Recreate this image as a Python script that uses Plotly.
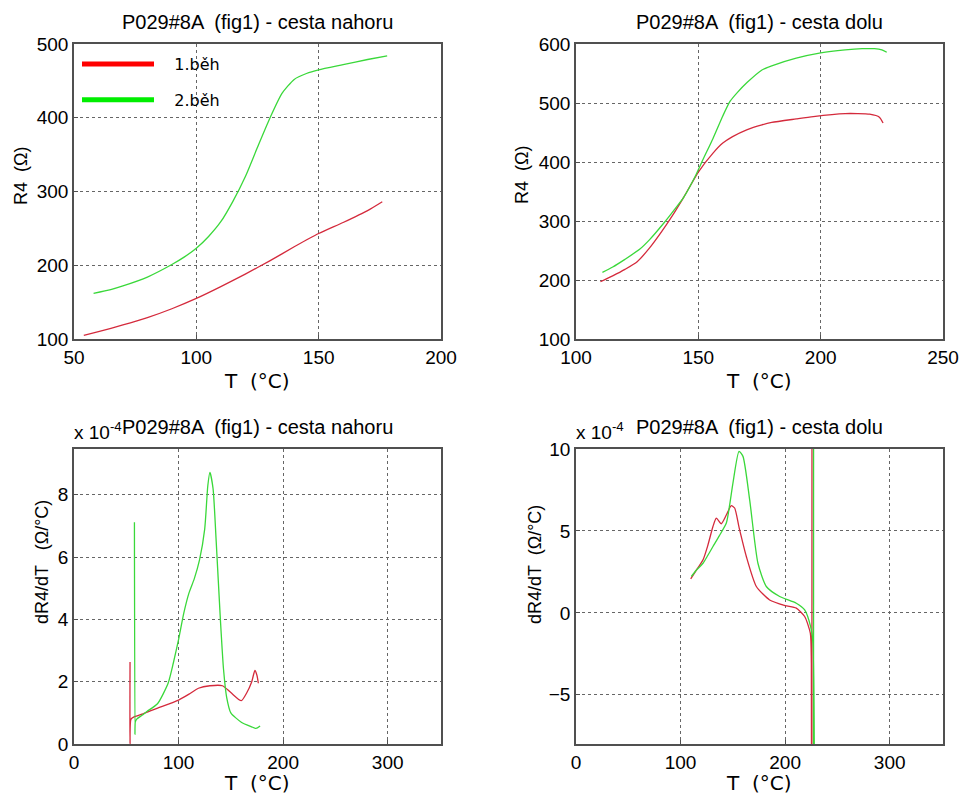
import plotly.graph_objects as go

# --- data ---
# cesta nahoru, R4 (Ohm)
up_t_run1 = [54, 60, 70, 80, 90, 100, 110, 120, 130, 140, 150, 160, 170, 176]
up_r_run1 = [105, 110, 119, 129, 141, 155, 171, 188, 206, 225, 243, 258, 274, 286]
up_t_run2 = [58, 65, 70, 80, 90, 95, 100, 105, 110, 115, 120, 125, 130, 135, 140, 145, 150, 160, 170, 178]
up_r_run2 = [162, 167, 172, 184, 201, 211, 223, 239, 259, 287, 320, 360, 399, 433, 452, 460, 465, 472, 479, 484]

# cesta dolu, R4 (Ohm)
down_t_run1 = [110, 115, 120, 125, 130, 135, 140, 144, 150, 156, 160, 164, 170, 176, 180, 190, 197, 210, 215, 220, 224, 225.5]
down_r_run1 = [197, 207, 218, 231, 254, 282, 313, 340, 383, 415, 432, 443, 455, 463, 467, 473, 477, 482, 482, 481, 476, 466]
down_t_run2 = [110.8, 115, 120, 126, 130, 136, 140, 144, 149, 152, 156, 160, 163, 166, 170, 176, 180, 190, 200, 210, 217, 222, 225, 227]
down_r_run2 = [213, 222, 235, 252, 268, 297, 318, 340, 378, 405, 440, 478, 503, 518, 535, 556, 563, 576, 585, 590, 592, 592, 590, 586]

# cesta nahoru, dR4/dT (x 1e-4 Ohm/degC)
up_dt_run1 = [53.6, 53.6, 54.5, 58, 66, 80, 100, 110, 119, 130, 142, 150, 160, 165, 170, 173, 175, 176.3]
up_dr_run1 = [2.63, 0.0, 0.8, 0.88, 0.97, 1.15, 1.41, 1.6, 1.79, 1.87, 1.87, 1.65, 1.39, 1.63, 2.0, 2.36, 2.2, 1.95]
up_dt_run2 = [57.8, 58.3, 58.6, 60, 65, 70, 80, 90, 95, 100, 105, 110, 115, 120, 125, 128, 130, 133, 136, 140, 143, 146, 150, 160, 170, 174, 178]
up_dr_run2 = [7.12, 0.3, 0.7, 0.8, 0.92, 1.05, 1.3, 1.95, 2.6, 3.35, 4.2, 4.85, 5.3, 5.9, 6.9, 8.3, 8.72, 8.2, 6.5, 4.0, 2.4, 1.5, 1.0, 0.7, 0.55, 0.5, 0.58]

# cesta dolu, dR4/dT (x 1e-4 Ohm/degC)
down_dt_run1 = [109.7, 115, 121.5, 126, 131, 134.2, 139, 144, 148.5, 151.7, 156, 162.9, 172.5, 185.2, 200, 210.7, 218.7, 224.1, 225.1, 225.5, 225.8]
down_dr_run1 = [2.08, 2.6, 3.24, 4.1, 5.27, 5.78, 5.44, 6.0, 6.54, 6.4, 5.2, 3.44, 1.61, 0.79, 0.45, 0.29, -0.22, -1.24, -3.08, -60, 60]
down_dt_run2 = [110.3, 115, 121.5, 126, 131, 137, 143.8, 147, 150.1, 155.9, 159.7, 166.1, 174, 182, 194.8, 210.7, 218.7, 224.4, 226.7, 227.1, 227.3]
down_dr_run2 = [2.22, 2.6, 3.03, 3.5, 4.05, 4.7, 5.48, 6.6, 7.92, 9.86, 9.55, 6.9, 3.03, 1.61, 1.0, 0.59, 0.18, -0.84, -1.85, -60, 60]

run_names = ["\u00a0\u00a0\u00a01.běh", "\u00a0\u00a0\u00a02.běh"]
run_colors = ["#d42a3c", "#3ad83a"]
legend_colors = ["#ff0000", "#00ee00"]

TICK_FONT = dict(family="Liberation Sans, Arial", size=19, color="black")
LABEL_FONT = dict(family="DejaVu Sans", size=20, color="black")
YLAB_FONT = dict(family="Liberation Sans, Arial", size=18, color="black")
TITLE_FONT = dict(family="Liberation Sans, Arial", size=20, color="black")

# body margin is removed in the page (post_script), so window pixels = figure pixels
W, H = 961, 796

def px_x(p):
    return p / W

def px_y(p):
    return 1 - p / H

fig = go.Figure()

panels = [
    ("x", "y", [(up_t_run1, up_r_run1), (up_t_run2, up_r_run2)]),
    ("x2", "y2", [(down_t_run1, down_r_run1), (down_t_run2, down_r_run2)]),
    ("x3", "y3", [(up_dt_run1, up_dr_run1), (up_dt_run2, up_dr_run2)]),
    ("x4", "y4", [(down_dt_run1, down_dr_run1), (down_dt_run2, down_dr_run2)]),
]

for xa, ya, pairs in panels:
    for i, (xs, ys) in enumerate(pairs):
        fig.add_trace(go.Scatter(
            x=xs, y=ys, xaxis=xa, yaxis=ya, mode="lines",
            line=dict(color=run_colors[i], width=1.3, shape="spline", smoothing=0.6),
            showlegend=False, hoverinfo="skip"
        ))

# legend entries (drawn only in the legend)
for i in range(2):
    fig.add_trace(go.Scatter(
        x=[None], y=[None], mode="lines", name=run_names[i],
        legendgroup=str(i),
        line=dict(color=legend_colors[i], width=5)
    ))

axis_common = dict(
    showline=True, mirror=True, linecolor="#505050", linewidth=1.5,
    showgrid=True, gridcolor="#666666", griddash="dot", gridwidth=1,
    zeroline=False, ticks="inside", ticklen=4, tickcolor="#505050",
    tickfont=TICK_FONT, automargin=False
)

xdom_l = [px_x(74), px_x(441)]
xdom_r = [px_x(576), px_x(943)]
ydom_t = [px_y(339), px_y(44)]
ydom_b = [px_y(744), px_y(449)]

fig.update_layout(
    width=W, height=H,
    margin=dict(l=0, r=0, t=0, b=0, autoexpand=False),
    paper_bgcolor="white", plot_bgcolor="white",
    xaxis=dict(domain=xdom_l, range=[50, 200], dtick=50, anchor="y", **axis_common),
    yaxis=dict(domain=ydom_t, range=[100, 500], dtick=100, anchor="x", **axis_common),
    xaxis2=dict(domain=xdom_r, range=[100, 250], dtick=50, anchor="y2",
                ticklabeloverflow="allow", **axis_common),
    yaxis2=dict(domain=ydom_t, range=[100, 600], dtick=100, anchor="x2", **axis_common),
    xaxis3=dict(domain=xdom_l, range=[0, 351], dtick=100, anchor="y3", **axis_common),
    yaxis3=dict(domain=ydom_b, range=[0, 9.47], dtick=2, anchor="x3", **axis_common),
    xaxis4=dict(domain=xdom_r, range=[0, 351], dtick=100, anchor="y4", **axis_common),
    yaxis4=dict(domain=ydom_b, range=[-8, 10], dtick=5, anchor="x4", **axis_common),
    legend=dict(
        x=px_x(77), y=px_y(47), xanchor="left", yanchor="top",
        bgcolor="rgba(0,0,0,0)", borderwidth=0,
        font=dict(family="DejaVu Sans", size=16, color="black"),
        itemwidth=72, tracegroupgap=12
    ),
)

# titles
titles = [
    (257, 22, "P029#8A  (fig1) - cesta nahoru"),
    (759, 22, "P029#8A  (fig1) - cesta dolu"),
    (257, 427, "P029#8A  (fig1) - cesta nahoru"),
    (759, 427, "P029#8A  (fig1) - cesta dolu"),
]
for cx, cy, t in titles:
    fig.add_annotation(x=px_x(cx), y=px_y(cy), xref="paper", yref="paper",
                       text=t, showarrow=False, font=TITLE_FONT,
                       xanchor="center", yanchor="middle")

# exponent labels
for lx in (72, 574):
    fig.add_annotation(x=px_x(lx), y=px_y(431), xref="paper", yref="paper",
                       text="x 10<sup>-4</sup>", showarrow=False, font=TICK_FONT,
                       xanchor="left", yanchor="middle")

# x axis labels
for cx, cy in [(257, 381), (759, 381), (257, 783), (759, 783)]:
    fig.add_annotation(x=px_x(cx), y=px_y(cy), xref="paper", yref="paper",
                       text="T  (°C)", showarrow=False, font=LABEL_FONT,
                       xanchor="center", yanchor="middle")

# y axis labels
ylabels = [
    (21, 176, "R4  (Ω)"),
    (522, 175, "R4  (Ω)"),
    (42, 562, "dR4/dT   (Ω/°C)"),
    (535, 565, "dR4/dT  (Ω/°C)"),
]
for cx, cy, t in ylabels:
    fig.add_annotation(x=px_x(cx), y=px_y(cy), xref="paper", yref="paper",
                       text=t, showarrow=False, font=YLAB_FONT, textangle=-90,
                       xanchor="center", yanchor="middle")

fig.write_html("out.html", config={"displayModeBar": False},
               post_script="document.body.style.margin = '0';")
